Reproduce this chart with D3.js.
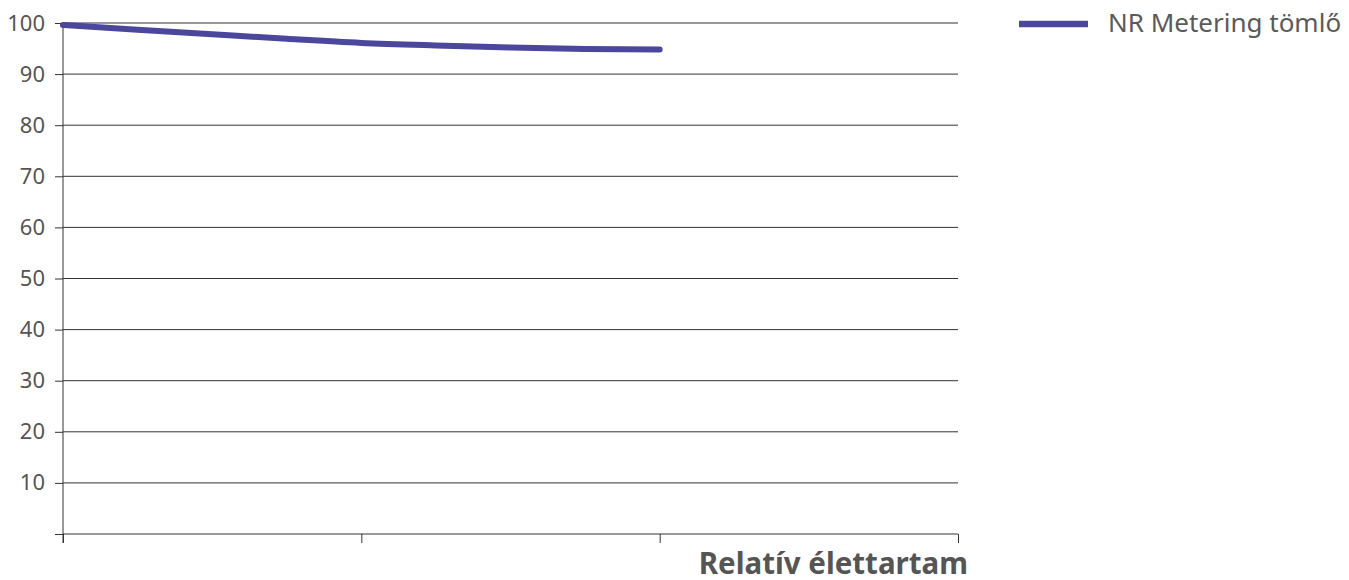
<!DOCTYPE html>
<html>
<head>
<meta charset="utf-8">
<script src="https://cdn.jsdelivr.net/npm/d3@7"></script>
<style>
  body { margin: 0; background: #fff; }
  text { font-family: "Noto Sans", "Open Sans", sans-serif; }
</style>
</head>
<body>
<div class="canvas"></div>
<script>
// data
const xValues = [0, 0.25, 0.5, 0.75, 1, 1.25, 1.5, 1.75, 2];
const hoseValues = [99.6, 98.7, 97.8, 96.9, 96.1, 95.6, 95.2, 94.9, 94.8];
const yTicks = [0, 10, 20, 30, 40, 50, 60, 70, 80, 90, 100];
const xTicks = [0, 1, 2, 3];
const seriesName = 'NR Metering tömlő';
const xTitle = 'Relatív élettartam';

const svg = d3.select('.canvas').append('svg')
    .attr('width', 1349)
    .attr('height', 580);

const plotLeft = 63, plotRight = 958, plotTop = 23, plotBottom = 534;

const x = d3.scaleLinear().domain([0, 3]).range([plotLeft, plotRight]);
const y = d3.scaleLinear().domain([0, 100]).range([plotBottom, plotTop]);

// gridlines
svg.append('g')
    .selectAll('line')
    .data(yTicks.filter(d => d > 0))
    .join('line')
    .attr('x1', plotLeft)
    .attr('x2', plotRight)
    .attr('y1', d => y(d))
    .attr('y2', d => y(d))
    .attr('stroke', '#333')
    .attr('stroke-width', 1);

// y axis
const yAxis = svg.append('g')
    .attr('transform', `translate(${plotLeft},0)`)
    .call(d3.axisLeft(y).tickValues(yTicks).tickSize(8).tickPadding(10)
        .tickFormat(d => d === 0 ? '' : d));
yAxis.select('.domain').attr('stroke', '#333').attr('d', `M0,${plotTop}V${plotBottom + 9}`);
yAxis.selectAll('.tick line').attr('stroke', '#333');
yAxis.selectAll('text')
    .attr('fill', '#555')
    .style('font-family', '"Noto Sans", sans-serif')
    .style('font-size', '22px');

// x axis
const xAxis = svg.append('g')
    .attr('transform', `translate(0,${plotBottom})`)
    .call(d3.axisBottom(x).tickValues(xTicks).tickSize(9).tickFormat(''));
xAxis.select('.domain').attr('stroke', '#333').attr('d', `M${plotLeft},0H${plotRight}`);
xAxis.selectAll('.tick line').attr('stroke', '#333');

svg.append('text')
    .attr('x', 968)
    .attr('y', 574)
    .attr('text-anchor', 'end')
    .attr('fill', '#555')
    .style('font-size', '29.5px')
    .style('font-weight', 'bold')
    .text(xTitle);

// series line
const line = d3.line()
    .x((d, i) => x(xValues[i]))
    .y(d => y(d))
    .curve(d3.curveMonotoneX);

svg.append('path')
    .datum(hoseValues)
    .attr('d', line)
    .attr('fill', 'none')
    .attr('stroke', '#4b479c')
    .attr('stroke-width', 6)
    .attr('stroke-linecap', 'round');

// legend
svg.append('line')
    .attr('x1', 1019)
    .attr('x2', 1088)
    .attr('y1', 24)
    .attr('y2', 24)
    .attr('stroke', '#4b479c')
    .attr('stroke-width', 6.5);

svg.append('text')
    .attr('x', 1108)
    .attr('y', 32)
    .attr('fill', '#5a5a5a')
    .style('font-size', '26px')
    .text(seriesName);
</script>
</body>
</html>
